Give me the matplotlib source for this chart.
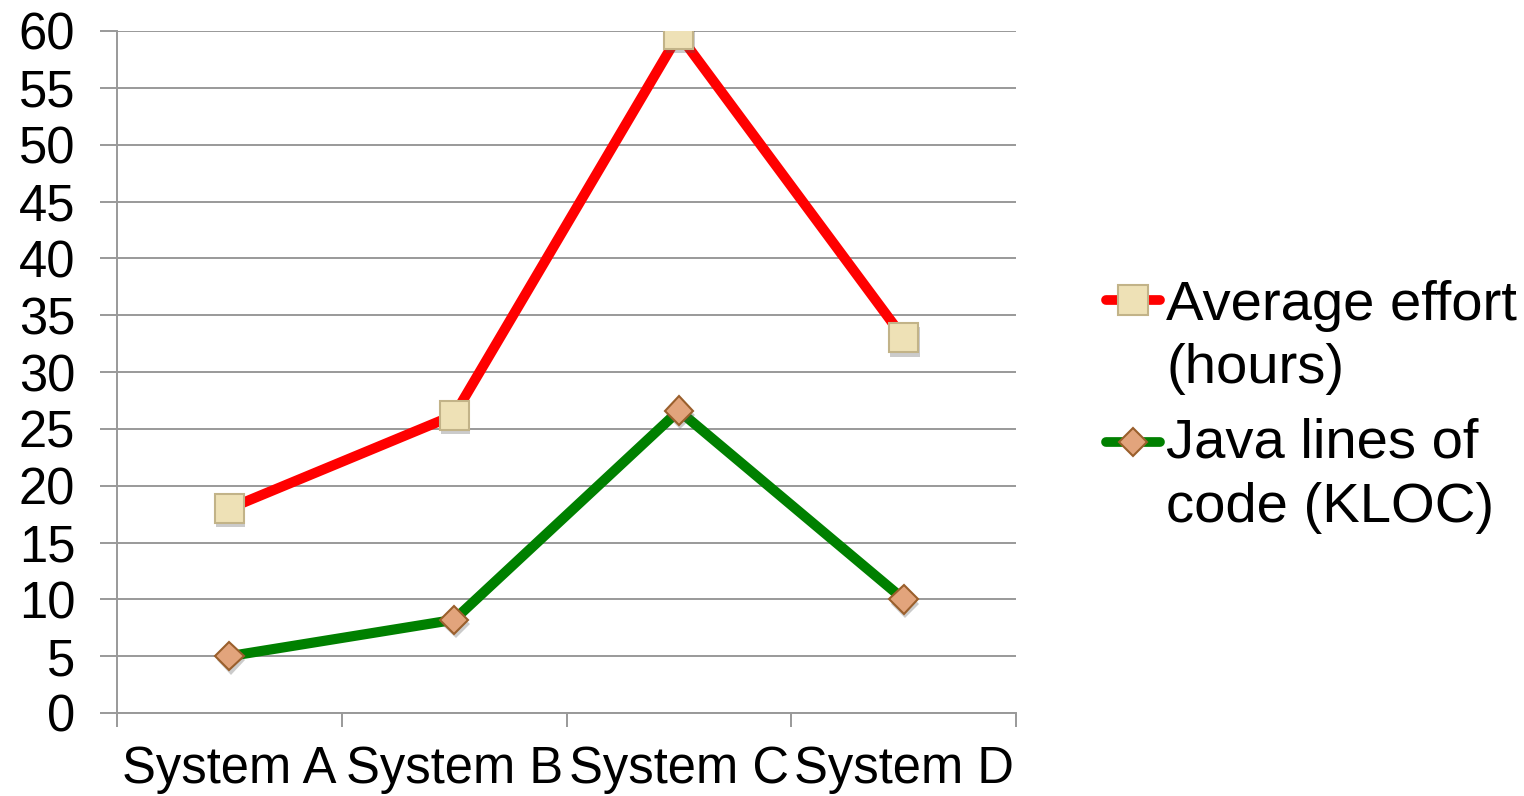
import matplotlib
matplotlib.use("Agg")
import matplotlib.pyplot as plt
import matplotlib.patheffects as pe
from matplotlib.lines import Line2D
import numpy as np

plt.rcParams['font.family'] = ['Liberation Sans', 'DejaVu Sans']

systems = ['System A', 'System B', 'System C', 'System D']
effort_hours = [18.0, 26.2, 59.7, 33.0]
java_kloc = [5.0, 8.2, 26.6, 10.0]

RED = '#ff0000'
GREEN = '#008000'
SQ_FACE, SQ_EDGE = '#eee1b6', '#c2b388'
DI_FACE, DI_EDGE = '#e2a47c', '#9a5f2c'
GRID = '#999999'

W, H = 1524, 796
fig = plt.figure(figsize=(W / 100, H / 100), dpi=100)
ax = fig.add_axes([117 / W, 1 - 713 / H, (1016 - 117) / W, (713 - 31) / H])

x = np.arange(len(systems))
shadow = [pe.SimplePatchShadow(offset=(1, -3), shadow_rgbFace='#555555', alpha=0.3), pe.Normal()]

ax.plot(x, effort_hours, color=RED, lw=7.3, solid_capstyle='butt', zorder=3)
ax.plot(x, java_kloc, color=GREEN, lw=7.3, solid_capstyle='butt', zorder=3)
ax.plot(x, effort_hours, ls='none', marker='s', ms=21, mfc=SQ_FACE, mec=SQ_EDGE,
        mew=1.5, zorder=4, path_effects=shadow)
ax.plot(x, java_kloc, ls='none', marker='D', ms=14.5, mfc=DI_FACE, mec=DI_EDGE,
        mew=1.5, zorder=4, path_effects=shadow)

ax.set_xlim(-0.5, 3.5)
ax.set_ylim(0, 60)
ax.set_yticks(np.arange(0, 61, 5))
ax.yaxis.grid(True, color=GRID, lw=1.4)
ax.set_axisbelow(True)

for side in ['top', 'right']:
    ax.spines[side].set_visible(False)
for side in ['left', 'bottom']:
    ax.spines[side].set_color(GRID)
    ax.spines[side].set_linewidth(1.4)

ax.set_xticks(x)
ax.set_xticklabels(systems)
ax.set_xticks(np.arange(-0.5, 3.6, 1), minor=True)
ax.tick_params(axis='x', which='major', length=0, pad=23, labelsize=36.5)
ax.tick_params(axis='x', which='minor', length=10, width=1.4, color=GRID, direction='out')
ax.tick_params(axis='y', length=12, width=1.4, color=GRID, direction='out', pad=18, labelsize=36.5)

# legend drawn in figure pixel positions
def fx(px):
    return px / W

def fy(py):
    return 1 - py / H

entries = [
    (RED, 's', 21, SQ_FACE, SQ_EDGE, 300, ['Average effort', '(hours)'], [320, 383]),
    (GREEN, 'D', 14.5, DI_FACE, DI_EDGE, 442, ['Java lines of', 'code (KLOC)'], [458, 522]),
]
for color, mk, ms, face, edge, ly, lines, baselines in entries:
    fig.add_artist(Line2D([fx(1106), fx(1160)], [fy(ly), fy(ly)], color=color, lw=7,
                          solid_capstyle='round', transform=fig.transFigure))
    fig.add_artist(Line2D([fx(1133)], [fy(ly)], ls='none', marker=mk, ms=ms, mfc=face,
                          mec=edge, mew=1.5, transform=fig.transFigure))
    for txt, b in zip(lines, baselines):
        fig.text(fx(1166), fy(b), txt, fontsize=40.5, va='baseline', ha='left')

fig.savefig('out.png', dpi=100, facecolor='white')
